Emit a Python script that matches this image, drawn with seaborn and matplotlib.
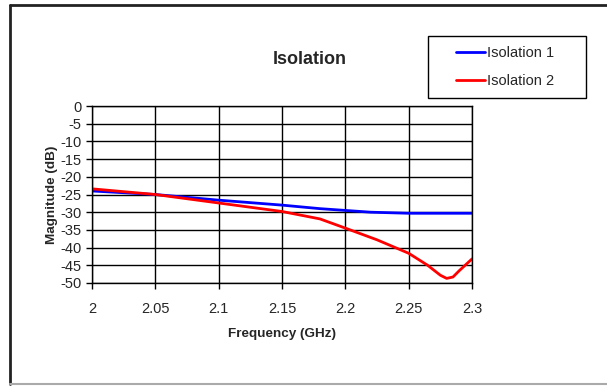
import matplotlib
matplotlib.use("Agg")
import matplotlib.pyplot as plt
import seaborn as sns
import pandas as pd
from matplotlib.lines import Line2D
from matplotlib.patches import Rectangle

# Data
freq_1 = [2.0, 2.05, 2.1, 2.15, 2.18, 2.2, 2.22, 2.25, 2.3]
iso_1 = [-24.0, -25.0, -26.6, -28.0, -29.0, -29.5, -30.0, -30.3, -30.3]

freq_2 = [2.0, 2.05, 2.1, 2.15, 2.18, 2.2, 2.225, 2.25, 2.265, 2.275, 2.28, 2.285, 2.29, 2.3]
iso_2 = [-23.4, -25.0, -27.4, -29.8, -31.9, -34.5, -37.8, -41.6, -45.0, -47.8, -48.7, -48.3, -46.5, -43.2]

yticks = list(range(0, -55, -5))
xticks = [2.0, 2.05, 2.1, 2.15, 2.2, 2.25, 2.3]
xtick_labels = ["2", "2.05", "2.1", "2.15", "2.2", "2.25", "2.3"]

df = pd.concat([
    pd.DataFrame({"Frequency": freq_1, "Magnitude": iso_1, "Series": "Isolation 1"}),
    pd.DataFrame({"Frequency": freq_2, "Magnitude": iso_2, "Series": "Isolation 2"}),
])

sns.set_style("white")
plt.rcParams["font.family"] = ["Liberation Sans", "DejaVu Sans"]

W, H = 607, 386
fig = plt.figure(figsize=(6.07, 3.86), dpi=100)
ax = fig.add_axes([92 / W, 1 - 283 / H, 380 / W, 177 / H])

sns.lineplot(data=df, x="Frequency", y="Magnitude", hue="Series",
             palette={"Isolation 1": "#0000ff", "Isolation 2": "#ff0000"},
             linewidth=2, legend=False, ax=ax, estimator=None, sort=False)

ax.set_xlim(2.0, 2.3)
ax.set_ylim(-50, 0)
ax.set_xticks(xticks)
ax.set_xticklabels(xtick_labels)
ax.set_yticks(yticks)
ax.set_yticklabels([str(v) for v in yticks])
ax.grid(True, color="black", linewidth=1)
for s in ax.spines.values():
    s.set_color("black")
    s.set_linewidth(1)
ax.tick_params(axis="both", direction="out", length=4, width=1, color="black",
               labelsize=10.5, bottom=True, left=True)
ax.tick_params(axis="x", pad=10)
ax.set_xlabel("Frequency (GHz)", fontsize=9.7, fontweight="bold", labelpad=8)
ax.set_ylabel("Magnitude (dB)", fontsize=9.7, fontweight="bold", labelpad=2)

fig.text(310 / W, 1 - 59 / H, "Isolation", ha="center", va="center", fontsize=13, fontweight="bold")

# legend box
fig.add_artist(Rectangle((428 / W, 1 - 98 / H), 158 / W, 62 / H, transform=fig.transFigure,
                         facecolor="white", edgecolor="black", lw=1))
handles = [Line2D([], [], color="#0000ff", lw=2), Line2D([], [], color="#ff0000", lw=2)]
fig.legend(handles, ["Isolation 1", "Isolation 2"], loc="center left",
           bbox_to_anchor=(456 / W, 1 - 67 / H), frameon=False,
           fontsize=10.5, handlelength=2.0, handletextpad=0.1,
           labelspacing=1.0, borderaxespad=0, borderpad=0)

# outer chart border
fig.add_artist(Line2D([10 / W, 10 / W], [1 - 5 / H, 1 - 384 / H], color="#222222", lw=2, transform=fig.transFigure))
fig.add_artist(Line2D([10 / W, 1.0], [1 - 5 / H, 1 - 5 / H], color="#222222", lw=2, transform=fig.transFigure))
fig.add_artist(Line2D([10 / W, 1.0], [1 - 384 / H, 1 - 384 / H], color="#aaaaaa", lw=1.5, transform=fig.transFigure))

fig.savefig("out.png", dpi=100)
